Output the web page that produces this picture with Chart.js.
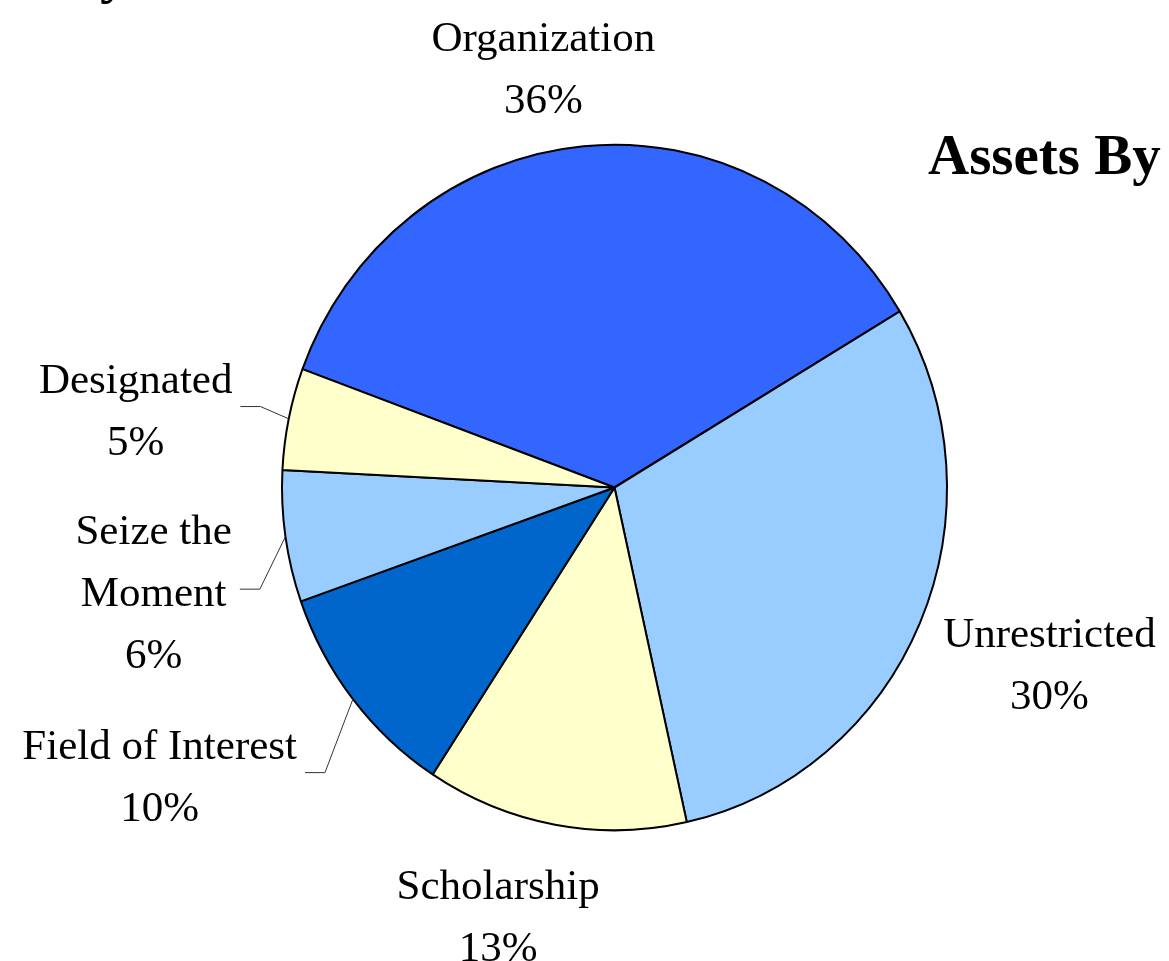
<!DOCTYPE html>
<html lang="en">
<head>
    <meta charset="UTF-8">
    <title>Assets By Fund Type</title>
    <script src="https://cdn.jsdelivr.net/npm/chart.js"></script>
    <style>
        body {
            margin: 0;
            background: white;
        }

        .chart-container {
            width: 1169px;
            height: 961px;
            position: relative;
        }
    </style>
</head>
<body>
    <div class="chart-container">
        <canvas id="assetsChart"></canvas>
    </div>

    <script>
        // data (share of assets, %)
        const categories = ['Organization', 'Unrestricted', 'Scholarship', 'Field of Interest', 'Seize the Moment', 'Designated'];
        const labelLines = [['Organization'], ['Unrestricted'], ['Scholarship'], ['Field of Interest'], ['Seize the', 'Moment'], ['Designated']];
        const shares = [35.8, 30.1, 12.7, 10.4, 6.2, 4.8];
        const sliceColors = ['#3366FF', '#99CCFF', '#FFFFCC', '#0066CC', '#99CCFF', '#FFFFCC'];
        const titleText = 'Assets By';

        // where each label sits, relative to pie centre, in radius units (x = centre of text, y = first baseline)
        const labelSpots = [
            [-0.214, -1.313],
            [1.308, 0.480],
            [-0.350, 1.237],
            [-1.368, 0.816],
            [-1.386, 0.171],
            [-1.440, -0.285]
        ];
        const hasLeader = [false, false, false, true, true, true];

        const FONT = '"Liberation Serif", "Times New Roman", serif';
        const fontSize = 43;
        const lineH = 62;
        const stretchY = 1.031; // the original pie is a touch taller than wide

        const labelPlugin = {
            id: 'pieLabels',
            beforeDatasetsDraw(chart) {
                const arc = chart.getDatasetMeta(0).data[0];
                const ctx = chart.ctx;
                ctx.save();
                ctx.translate(arc.x, arc.y);
                ctx.scale(1, stretchY);
                ctx.translate(-arc.x, -arc.y);
            },
            afterDatasetsDraw(chart) {
                const ctx = chart.ctx;
                ctx.restore();

                const meta = chart.getDatasetMeta(0);
                const total = shares.reduce((a, b) => a + b, 0);
                ctx.save();
                ctx.font = fontSize + 'px ' + FONT;
                ctx.fillStyle = '#000';
                ctx.textAlign = 'center';
                ctx.textBaseline = 'alphabetic';

                meta.data.forEach((arc, i) => {
                    const p = arc.getProps(['x', 'y', 'startAngle', 'endAngle', 'outerRadius'], true);
                    const r = p.outerRadius;
                    const cx = p.x + labelSpots[i][0] * r;
                    const by = p.y + labelSpots[i][1] * r;
                    const lines = labelLines[i].concat([Math.round(shares[i] * 100 / total) + '%']);
                    let maxW = 0;
                    lines.forEach((t, k) => {
                        ctx.fillText(t, cx, by + k * lineH);
                        maxW = Math.max(maxW, ctx.measureText(t).width);
                    });

                    if (hasLeader[i]) {
                        const mid = (p.startAngle + p.endAngle) / 2;
                        const ax = p.x + Math.cos(mid) * r;
                        const ay = p.y + Math.sin(mid) * r * stretchY;
                        const right = cx + maxW / 2;
                        const midY = (by - 0.8 * fontSize + by + (lines.length - 1) * lineH) / 2;
                        ctx.beginPath();
                        ctx.strokeStyle = '#333';
                        ctx.lineWidth = 1;
                        ctx.moveTo(right + 8, midY);
                        ctx.lineTo(right + 28, midY);
                        ctx.lineTo(ax, ay);
                        ctx.stroke();
                    }
                });

                // title, cut off at the right edge as in the original
                ctx.font = 'bold 57px ' + FONT;
                ctx.textAlign = 'left';
                ctx.fillText(titleText, 928, 174);
                // tail of a heading from above the frame
                ctx.fillText('y', 100, -8);
                ctx.restore();
            }
        };

        new Chart(document.getElementById('assetsChart'), {
            type: 'pie',
            data: {
                labels: categories,
                datasets: [{
                    data: shares,
                    backgroundColor: sliceColors,
                    borderColor: '#000',
                    borderWidth: 2,
                    clip: false
                }]
            },
            options: {
                responsive: true,
                maintainAspectRatio: false,
                animation: false,
                rotation: 290.2,
                layout: {
                    padding: { top: 154, bottom: 140, left: 281, right: 221 }
                },
                plugins: {
                    legend: { display: false },
                    tooltip: { enabled: false },
                    title: { display: false }
                }
            },
            plugins: [labelPlugin]
        });
    </script>
</body>
</html>
